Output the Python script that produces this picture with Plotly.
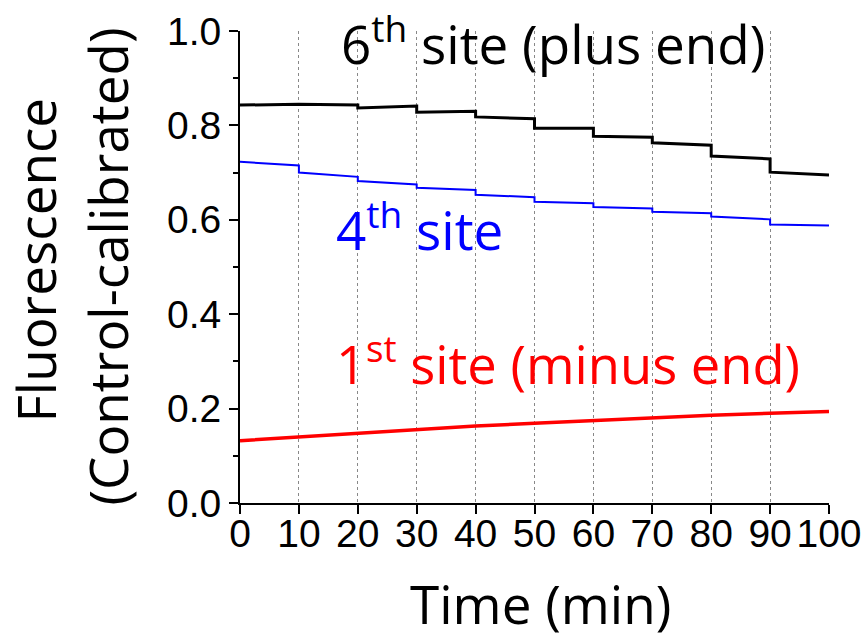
import plotly.graph_objects as go

# ---- data ----
seg_start = [0, 10, 20, 30, 40, 50, 60, 70, 80, 90]
seg_end = [10, 20, 30, 40, 50, 60, 70, 80, 90, 100]

# 6th site (plus end), black: value at start / end of each 10-min segment
black_start = [0.843, 0.845, 0.837, 0.828, 0.818, 0.794, 0.777, 0.763, 0.735, 0.701]
black_end = [0.845, 0.843, 0.841, 0.830, 0.814, 0.794, 0.775, 0.758, 0.729, 0.695]

# 4th site, blue
blue_start = [0.723, 0.700, 0.682, 0.668, 0.653, 0.638, 0.627, 0.617, 0.607, 0.590]
blue_end = [0.715, 0.691, 0.675, 0.663, 0.648, 0.635, 0.624, 0.614, 0.601, 0.588]

# 1st site (minus end), red
red_time = [0, 10, 20, 30, 40, 50, 60, 70, 80, 90, 100]
red_vals = [0.132, 0.140, 0.148, 0.156, 0.163, 0.169, 0.175, 0.181, 0.186, 0.190, 0.194]

x_ticks = [0, 10, 20, 30, 40, 50, 60, 70, 80, 90, 100]
y_ticks = [0.0, 0.2, 0.4, 0.6, 0.8, 1.0]
y_tick_labels = ["0.0", "0.2", "0.4", "0.6", "0.8", "1.0"]
y_title_lines = ["Fluorescence", "(Control-calibrated)"]
x_title = "Time (min)"


def stepped(starts, ends):
    xs, ys = [], []
    for t0, t1, a, b in zip(seg_start, seg_end, starts, ends):
        xs += [t0, t1]
        ys += [a, b]
    return xs, ys


TITLE_FONT = "Open Sans, Noto Sans, sans-serif"
TICK_FONT = "Liberation Sans, Arial, sans-serif"

fig = go.Figure()
bx, by = stepped(black_start, black_end)
ux, uy = stepped(blue_start, blue_end)
fig.add_trace(go.Scatter(x=bx, y=by, mode="lines", line=dict(color="black", width=3)))
fig.add_trace(go.Scatter(x=ux, y=uy, mode="lines", line=dict(color="#0000ff", width=2)))
fig.add_trace(go.Scatter(x=red_time, y=red_vals, mode="lines", line=dict(color="#ff0000", width=3.5)))

fig.add_annotation(x=16.8, y=0.978, xref="x", yref="paper", xanchor="left", yanchor="middle",
                   text="6<sup>th</sup> site (plus end)", showarrow=False,
                   font=dict(family=TITLE_FONT, size=53, color="black"))
fig.add_annotation(x=15.9, y=0.585, xref="x", yref="paper", xanchor="left", yanchor="middle",
                   text="4<sup>th</sup> site", showarrow=False,
                   font=dict(family=TITLE_FONT, size=53, color="#0000ff"))
fig.add_annotation(x=15.9, y=0.300, xref="x", yref="paper", xanchor="left", yanchor="middle",
                   text="1<sup>st</sup> site (minus end)", showarrow=False,
                   font=dict(family=TITLE_FONT, size=52.5, color="#ff0000"))

# y-axis title, two rotated lines
fig.add_annotation(x=-0.347, y=0.515, xref="paper", yref="paper", xanchor="center", yanchor="middle",
                   text=y_title_lines[0], textangle=-90, showarrow=False,
                   font=dict(family=TITLE_FONT, size=53, color="black"))
fig.add_annotation(x=-0.225, y=0.502, xref="paper", yref="paper", xanchor="center", yanchor="middle",
                   text=y_title_lines[1], textangle=-90, showarrow=False,
                   font=dict(family=TITLE_FONT, size=53, color="black"))

# x-axis title
fig.add_annotation(x=0.511, y=-0.212, xref="paper", yref="paper", xanchor="center", yanchor="middle",
                   text=x_title, showarrow=False,
                   font=dict(family=TITLE_FONT, size=53, color="black"))

fig.update_layout(
    width=866, height=637,
    margin=dict(l=240, r=37, t=31, b=134, autoexpand=False),
    paper_bgcolor="white", plot_bgcolor="white",
    showlegend=False,
)
fig.update_xaxes(
    range=[0, 100], tickvals=x_ticks, ticktext=[str(v) for v in x_ticks],
    ticks="outside", ticklen=9, tickwidth=1.5, tickcolor="black",
    showline=True, linecolor="black", linewidth=2,
    showgrid=True, gridcolor="#888888", gridwidth=1, griddash="3px,3px",
    zeroline=False, ticklabelstandoff=-14, automargin=False,
    tickfont=dict(family=TICK_FONT, size=39, color="black"),
)
fig.update_yaxes(
    range=[0, 1.0], tickvals=y_ticks, ticktext=y_tick_labels,
    ticks="outside", ticklen=9, tickwidth=1.5, tickcolor="black",
    minor=dict(dtick=0.1, tick0=0, ticks="outside", ticklen=5, tickwidth=1.5, tickcolor="black", showgrid=False),
    showline=True, linecolor="black", linewidth=2,
    showgrid=False, zeroline=False, automargin=False,
    tickfont=dict(family=TICK_FONT, size=39, color="black"),
)

fig.write_html("out.html", config={"displayModeBar": False},
               post_script="document.body.style.margin='0px';")
